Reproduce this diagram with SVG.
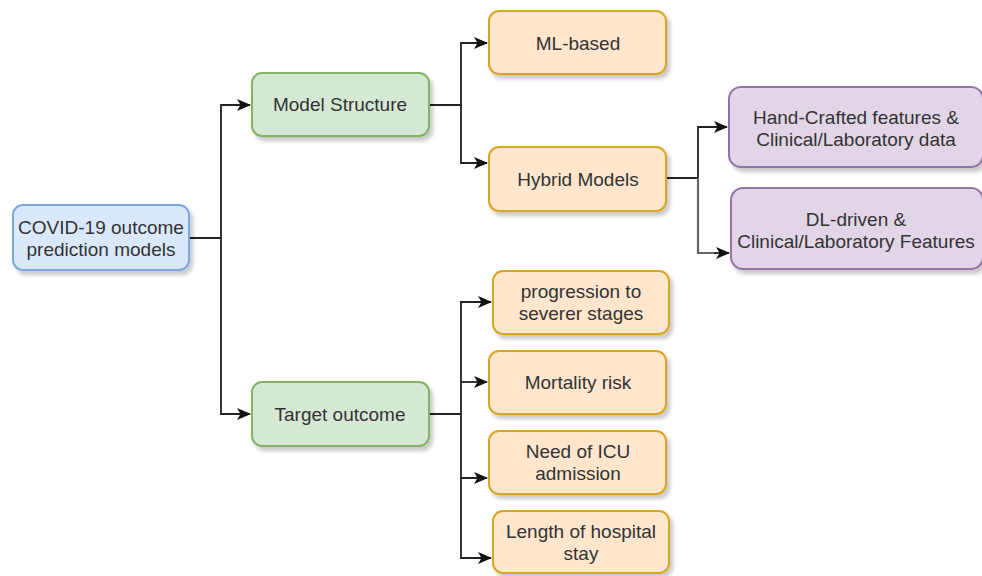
<svg xmlns="http://www.w3.org/2000/svg" width="982" height="576" viewBox="0 0 982 576">
  <defs>
    <filter id="shadow" x="-10%" y="-10%" width="130%" height="140%">
      <feGaussianBlur in="SourceAlpha" stdDeviation="2"/>
      <feOffset dx="3" dy="4" result="off"/>
      <feComponentTransfer><feFuncA type="linear" slope="0.22"/></feComponentTransfer>
      <feMerge><feMergeNode/><feMergeNode in="SourceGraphic"/></feMerge>
    </filter>
    <marker id="arrow" viewBox="0 0 14 12" refX="13" refY="6" markerWidth="14" markerHeight="12" markerUnits="userSpaceOnUse" orient="auto">
      <path d="M0,0 L14,6 L0,12 L3.5,6 Z" fill="#111"/>
    </marker>
  </defs>
  <style>
    .box { stroke-width: 2; filter: url(#shadow); }
    .blue { fill: #dae8fc; stroke: #7ea6e0; }
    .green { fill: #d5e8d4; stroke: #82b366; }
    .orange { fill: #ffe6cc; stroke: #d9a520; }
    .purple { fill: #e1d5e7; stroke: #9673a6; }
    .label { font-family: "Liberation Sans", Arial, sans-serif; font-size: 19px; fill: #333; text-anchor: middle; dominant-baseline: central; }
    .edge { fill: none; stroke: #222; stroke-width: 1.8; }
    .edge-light { fill: none; stroke: #666; stroke-width: 2.2; }
  </style>

  <rect width="982" height="576" fill="#ffffff"/>

  <!-- connectors -->
  <g id="connectors">
    <path class="edge" d="M189,238 H221 V105 H250" marker-end="url(#arrow)"/>
    <path class="edge" d="M221,238 V414 H250" marker-end="url(#arrow)"/>
    <path class="edge" d="M429,105 H461 V43 H487" marker-end="url(#arrow)"/>
    <path class="edge" d="M461,105 V163 H487" marker-end="url(#arrow)"/>
    <path class="edge" d="M666,178 H698 V127 H727" marker-end="url(#arrow)"/>
    <path class="edge-light" d="M698,178 V253 H716"/>
    <path class="edge" d="M714,253 H729" marker-end="url(#arrow)"/>
    <path class="edge" d="M429,414 H461 V302 H491" marker-end="url(#arrow)"/>
    <path class="edge" d="M461,382 H487" marker-end="url(#arrow)"/>
    <path class="edge" d="M461,414 V478 H487" marker-end="url(#arrow)"/>
    <path class="edge" d="M461,478 V558 H491" marker-end="url(#arrow)"/>
  </g>

  <g id="root">
    <rect class="box blue" x="13" y="205" width="176" height="65" rx="10"/>
    <text class="label" x="101" y="227">COVID-19 outcome</text>
    <text class="label" x="101" y="249">prediction models</text>
  </g>

  <g id="model-structure">
    <rect class="box green" x="252" y="73" width="177" height="63" rx="10"/>
    <text class="label" x="340" y="104">Model Structure</text>
  </g>

  <g id="target-outcome">
    <rect class="box green" x="252" y="382" width="177" height="64" rx="10"/>
    <text class="label" x="340" y="414">Target outcome</text>
  </g>

  <g id="ml-based">
    <rect class="box orange" x="489" y="11" width="177" height="63" rx="10"/>
    <text class="label" x="578" y="43">ML-based</text>
  </g>

  <g id="hybrid-models">
    <rect class="box orange" x="489" y="147" width="177" height="64" rx="10"/>
    <text class="label" x="578" y="179">Hybrid Models</text>
  </g>

  <g id="hand-crafted">
    <rect class="box purple" x="729" y="87" width="254" height="80" rx="12"/>
    <text class="label" x="856" y="117">Hand-Crafted features &amp;</text>
    <text class="label" x="856" y="139">Clinical/Laboratory data</text>
  </g>

  <g id="dl-driven">
    <rect class="box purple" x="731" y="188" width="252" height="81" rx="12"/>
    <text class="label" x="856" y="219">DL-driven &amp;</text>
    <text class="label" x="856" y="241">Clinical/Laboratory Features</text>
  </g>

  <g id="progression">
    <rect class="box orange" x="493" y="271" width="176" height="63" rx="10"/>
    <text class="label" x="581" y="291">progression to</text>
    <text class="label" x="581" y="313">severer stages</text>
  </g>

  <g id="mortality">
    <rect class="box orange" x="489" y="351" width="177" height="63" rx="10"/>
    <text class="label" x="578" y="382">Mortality risk</text>
  </g>

  <g id="icu">
    <rect class="box orange" x="489" y="431" width="177" height="63" rx="10"/>
    <text class="label" x="578" y="451">Need of ICU</text>
    <text class="label" x="578" y="473">admission</text>
  </g>

  <g id="hospital-stay">
    <rect class="box orange" x="493" y="511" width="176" height="62" rx="10"/>
    <text class="label" x="581" y="531">Length of hospital</text>
    <text class="label" x="581" y="553">stay</text>
  </g>
</svg>
